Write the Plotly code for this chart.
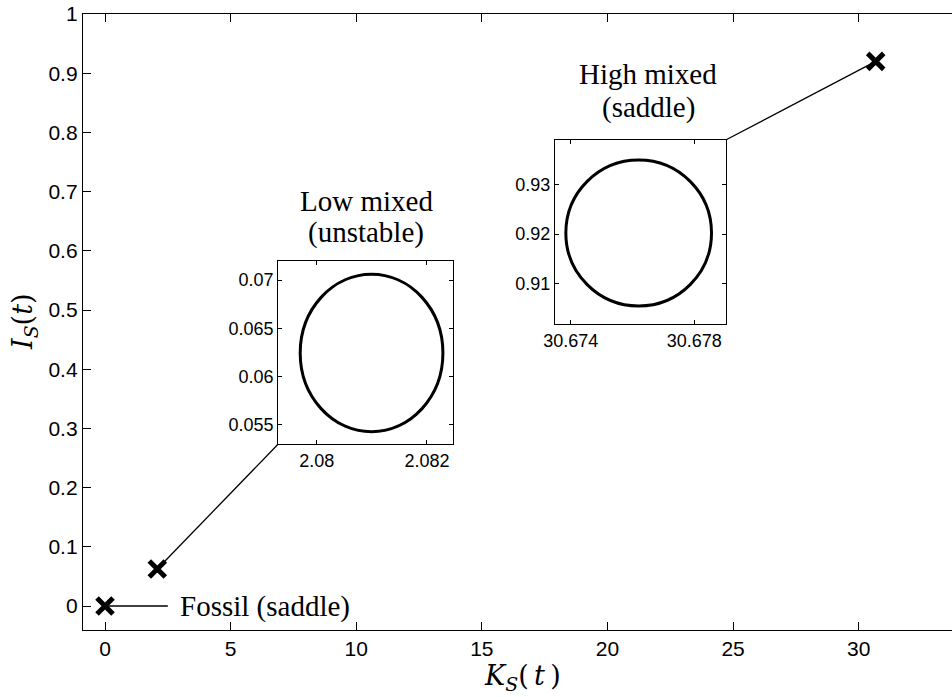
import plotly.graph_objects as go

# Fixed points of the (K_S, I_S) system
fp_k = [0.0, 2.081, 30.676]
fp_i = [0.0, 0.0625, 0.920]

# Limit cycles around the mixed equilibria (bounding extents)
low_orbit_k = [2.07970, 2.08229]
low_orbit_i = [0.05431, 0.07059]
high_orbit_k = [30.67384, 30.67856]
high_orbit_i = [0.90538, 0.93508]

# Tick labels
main_xticks = [0, 5, 10, 15, 20, 25, 30]
main_yticks = [0, 0.1, 0.2, 0.3, 0.4, 0.5, 0.6, 0.7, 0.8, 0.9, 1]
low_xticks = [2.08, 2.082]
low_yticks = [0.055, 0.06, 0.065, 0.07]
high_xticks = [30.674, 30.678]
high_yticks = [0.91, 0.92, 0.93]

fossil_label = "Fossil (saddle)"
low_label = ["Low mixed", "(unstable)"]
high_label = ["High mixed", "(saddle)"]

# ---- layout geometry ----
W, H = 952, 697
ML, MR, MT, MB = 83, 0, 14, 67
PW, PH = W - ML - MR, H - MT - MB
X_RANGE = [-0.876, 33.714]
Y_RANGE = [-0.0405, 1.0]
LOW_DOM_X, LOW_DOM_Y = [0.2247, 0.4261], [0.3019, 0.5995]
HIGH_DOM_X, HIGH_DOM_Y = [0.5432, 0.7396], [0.4968, 0.7955]
LOW_RANGE_X, LOW_RANGE_Y = [2.079302, 2.082478], [0.05303, 0.07200]
HIGH_RANGE_X, HIGH_RANGE_Y = [30.67349, 30.67902], [0.90172, 0.93915]


def px_x(p):
    return (p - ML) / PW


def px_y(p):
    return (H - MB - p) / PH


def dom_to_main(dx, dy):
    return (X_RANGE[0] + dx * (X_RANGE[1] - X_RANGE[0]),
            Y_RANGE[0] + dy * (Y_RANGE[1] - Y_RANGE[0]))


TICK_FONT = dict(family="Liberation Sans, Arial, sans-serif", size=21, color="black")
INSET_FONT = dict(family="Liberation Sans, Arial, sans-serif", size=18, color="black")
SERIF = dict(family="Liberation Serif, Times New Roman, serif", size=29, color="black")
MATH = dict(family="DejaVu Serif, serif", size=27, color="black")

fig = go.Figure()

# connectors from each fixed point to its label / inset
lc_x, lc_y = dom_to_main(LOW_DOM_X[0], LOW_DOM_Y[0])
hc_x, hc_y = dom_to_main(HIGH_DOM_X[1], HIGH_DOM_Y[1])
conn_style = dict(color="black", width=1.3)
fig.add_trace(go.Scatter(x=[fp_k[0], 2.5], y=[fp_i[0], fp_i[0]], mode="lines",
                         line=conn_style, showlegend=False, hoverinfo="skip"))
fig.add_trace(go.Scatter(x=[fp_k[1], lc_x], y=[fp_i[1], lc_y], mode="lines",
                         line=conn_style, showlegend=False, hoverinfo="skip", cliponaxis=False))
fig.add_trace(go.Scatter(x=[fp_k[2], hc_x], y=[fp_i[2], hc_y], mode="lines",
                         line=conn_style, showlegend=False, hoverinfo="skip", cliponaxis=False))

# fixed points
fig.add_trace(go.Scatter(x=fp_k, y=fp_i, mode="markers", showlegend=False,
                         marker=dict(symbol="x-thin", size=16, color="black",
                                     line=dict(width=5, color="black")),
                         cliponaxis=False))

# invisible traces so the inset axes are drawn
fig.add_trace(go.Scatter(x=low_orbit_k, y=low_orbit_i, xaxis="x2", yaxis="y2",
                         mode="markers", marker=dict(opacity=0), showlegend=False,
                         hoverinfo="skip"))
fig.add_trace(go.Scatter(x=high_orbit_k, y=high_orbit_i, xaxis="x3", yaxis="y3",
                         mode="markers", marker=dict(opacity=0), showlegend=False,
                         hoverinfo="skip"))
fig.add_trace(go.Scatter(x=fp_k, y=fp_i, xaxis="x4", yaxis="y",
                         mode="markers", marker=dict(opacity=0), showlegend=False,
                         hoverinfo="skip"))

# limit cycles
fig.add_shape(type="circle", xref="x2", yref="y2",
              x0=low_orbit_k[0], x1=low_orbit_k[1], y0=low_orbit_i[0], y1=low_orbit_i[1],
              line=dict(color="black", width=3))
fig.add_shape(type="circle", xref="x3", yref="y3",
              x0=high_orbit_k[0], x1=high_orbit_k[1], y0=high_orbit_i[0], y1=high_orbit_i[1],
              line=dict(color="black", width=3))

main_ax = dict(showgrid=False, zeroline=False, showline=True, linecolor="black",
               linewidth=1.3, ticks="inside", ticklen=8, tickwidth=1,
               tickcolor="black", tickfont=TICK_FONT)
inset_ax = dict(showgrid=False, zeroline=False, showline=True, linecolor="black",
                linewidth=1.3, ticks="inside", ticklen=4, tickwidth=1,
                tickcolor="black", mirror="ticks", tickfont=INSET_FONT)

fig.update_layout(
    width=W, height=H,
    margin=dict(l=ML, r=MR, t=MT, b=MB, pad=0),
    paper_bgcolor="white", plot_bgcolor="white",
    xaxis=dict(main_ax, domain=[0, 1], range=X_RANGE, tickvals=main_xticks, anchor="y"),
    yaxis=dict(main_ax, domain=[0, 1], range=Y_RANGE, tickvals=main_yticks, anchor="x"),
    xaxis4=dict(main_ax, overlaying="x", side="top", range=X_RANGE, tickvals=main_xticks,
                showticklabels=False, anchor="y"),
    xaxis2=dict(inset_ax, domain=LOW_DOM_X, range=LOW_RANGE_X, tickvals=low_xticks, anchor="y2"),
    yaxis2=dict(inset_ax, domain=LOW_DOM_Y, range=LOW_RANGE_Y, tickvals=low_yticks, anchor="x2"),
    xaxis3=dict(inset_ax, domain=HIGH_DOM_X, range=HIGH_RANGE_X, tickvals=high_xticks, anchor="y3"),
    yaxis3=dict(inset_ax, domain=HIGH_DOM_Y, range=HIGH_RANGE_Y, tickvals=high_yticks, anchor="x3"),
)

ann = []
ann.append(dict(x=2.9, y=fp_i[0], xref="x", yref="y", text=fossil_label, showarrow=False,
                xanchor="left", yanchor="middle", font=SERIF))
for txt, py in zip(low_label, [201, 232]):
    ann.append(dict(x=px_x(366), y=px_y(py), xref="paper", yref="paper", text=txt,
                    showarrow=False, xanchor="center", yanchor="middle", font=SERIF))
for txt, py in zip(high_label, [74, 107]):
    ann.append(dict(x=px_x(648), y=px_y(py), xref="paper", yref="paper", text=txt,
                    showarrow=False, xanchor="center", yanchor="middle", font=SERIF))
ann.append(dict(x=px_x(522), y=px_y(697), xref="paper", yref="paper",
                text="<i>K</i><sub><i>S</i></sub>(\u2009<i>t</i>\u2009)", showarrow=False,
                xanchor="center", yanchor="bottom", font=MATH))
ann.append(dict(x=px_x(24), y=px_y(322), xref="paper", yref="paper",
                text="<i>I</i><sub><i>S</i></sub>(<i>t</i>)", showarrow=False,
                textangle=-90, xanchor="center", yanchor="middle", font=MATH))
fig.update_layout(annotations=ann)

fig.write_html("out.html")
